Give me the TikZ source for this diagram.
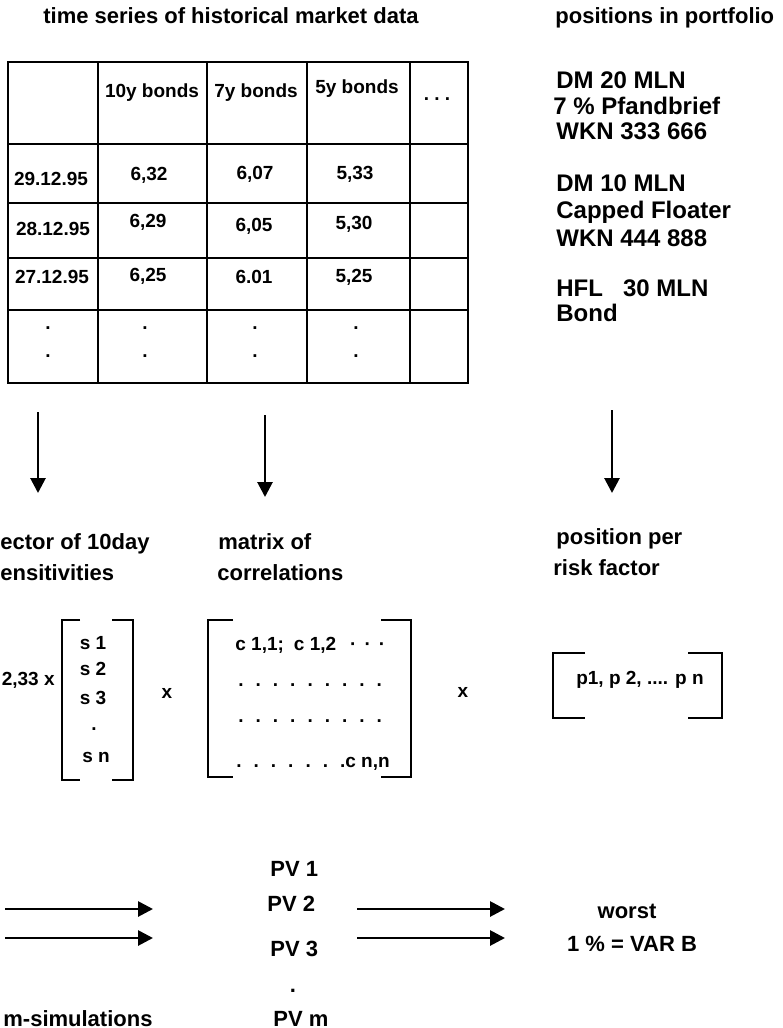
\documentclass[tikz,border=0pt]{standalone}
\usepackage{fontspec}
\setmainfont{Liberation Sans}
\usetikzlibrary{arrows.meta}

\newcommand{\dotgap}{\hspace{6pt}}

\tikzset{
  lbl/.style={font=\bfseries\fontsize{11pt}{13pt}\selectfont, inner sep=0pt, anchor=base west},
  holding/.style={lbl, font=\bfseries\fontsize{12pt}{14pt}\selectfont},
  cell/.style={font=\bfseries\fontsize{9.5pt}{11pt}\selectfont, inner sep=0pt},
  grid/.style={line width=1.3pt},
  brack/.style={line width=1.3pt},
  flow/.style={line width=1.4pt, -{Triangle[length=7.5pt, width=7.5pt]}}
}

\begin{document}
\begin{tikzpicture}[x=0.5pt, y=-0.5pt]
  \useasboundingbox (0,0) rectangle (782,1028);

  % historical market data
  \node[lbl, anchor=base] (histtitle) at (231,24) {time series of historical market data};
  \draw[grid] (8,62) rectangle (468,383);
  \foreach \xx in {98,207,307,410} \draw[grid] (\xx,62) -- (\xx,383);
  \foreach \yy in {144,203,258,310} \draw[grid] (8,\yy) -- (468,\yy);

  \node[cell] (head1) at (152,93) {10y bonds};
  \node[cell] (head2) at (256,93) {7y bonds};
  \node[cell] (head3) at (357,89) {5y bonds};
  \node[cell, anchor=base] (head4) at (437,100) {.\ .\ .};

  \node[cell] (date1) at (51,179) {29.12.95};
  \node[cell] (val11) at (149,175) {6,32};
  \node[cell] (val12) at (255,174) {6,07};
  \node[cell] (val13) at (355,174) {5,33};
  \node[cell] (date2) at (53,229) {28.12.95};
  \node[cell] (val21) at (148,222) {6,29};
  \node[cell] (val22) at (254,226) {6,05};
  \node[cell] (val23) at (354,224) {5,30};
  \node[cell] (date3) at (52,277) {27.12.95};
  \node[cell] (val31) at (148,276) {6,25};
  \node[cell] (val32) at (254,277) {6.01};
  \node[cell] (val33) at (354,277) {5,25};
  \foreach \xx [count=\i] in {48,145,255,356} {
    \node[cell, anchor=base] (dota\i) at (\xx,329) {.};
    \node[cell, anchor=base] (dotb\i) at (\xx,357) {.};
  }

  % portfolio
  \node[lbl] (posttitle) at (555,24) {positions in portfolio};
  \foreach \t/\xx/\yy [count=\i] in {DM 20 MLN/556/88, 7 \% Pfandbrief/553/114,
      WKN 333 666/556/139, DM 10 MLN/556/191, Capped Floater/556/218,
      WKN 444 888/556/246, HFL\ \ \ 30 MLN/556/296, Bond/556/321}
    \node[holding] (hold\i) at (\xx,\yy) {\t};

  % arrows down
  \coordinate (tabA) at (38,412);  \coordinate (sensA) at (38,493);
  \coordinate (tabB) at (265,415); \coordinate (corrA) at (265,497);
  \coordinate (holdA) at (612,410); \coordinate (riskA) at (612,493);
  \draw[flow] (tabA) -- (sensA);
  \draw[flow] (tabB) -- (corrA);
  \draw[flow] (holdA) -- (riskA);

  \node[lbl] (senslbl) at (0,549) {ector of 10day};
  \node[lbl] (senslbl2) at (0,580) {ensitivities};
  \node[lbl] (corrlbl) at (218,549) {matrix of};
  \node[lbl] (corrlbl2) at (217,580) {correlations};
  \node[lbl] (risklbl) at (556,544) {position per};
  \node[lbl] (risklbl2) at (553,575) {risk factor};

  % sensitivities
  \node[cell, anchor=base east] (quant) at (55,685) {2,33 x};
  \draw[brack] (80,620) -| (62,780) -- (80,780);
  \draw[brack] (112,620) -| (133,780) -- (112,780);
  \foreach \t/\xx/\yy [count=\i] in {s 1/93/649, s 2/93/675, s 3/93/704, ./94/730, s n/96/762}
    \node[cell, anchor=base] (sens\i) at (\xx,\yy) {\t};
  \node[cell, anchor=base] (times1) at (167,698) {x};

  % correlations
  \draw[brack] (233,620) -| (208,777) -- (233,777);
  \draw[brack] (381,620) -| (411,777) -- (381,777);
  \node[cell, anchor=base west] (corr1) at (235,650)
    {c 1,1;\hspace{5pt}c 1,2\hspace{7pt}\textperiodcentered\hspace{4pt}\textperiodcentered\hspace{4pt}\textperiodcentered};
  \node[cell, anchor=base west] (corr2) at (238,686)
    {.\dotgap.\dotgap.\dotgap.\dotgap.\dotgap.\dotgap.\dotgap.\dotgap.};
  \node[cell, anchor=base west] (corr3) at (238,722)
    {.\dotgap.\dotgap.\dotgap.\dotgap.\dotgap.\dotgap.\dotgap.\dotgap.};
  \node[cell, anchor=base west] (corr4) at (236,767)
    {.\dotgap.\dotgap.\dotgap.\dotgap.\dotgap.\dotgap.c n,n};
  \node[cell, anchor=base] (times2) at (463,697) {x};

  % positions per risk factor
  \draw[brack] (585,653) -| (553,718) -- (585,718);
  \draw[brack] (688,653) -| (722,718) -- (688,718);
  \node[cell, anchor=base] (pvec) at (640,684) {p1, p 2, .... p n};

  % simulation
  \node[lbl] (pv1) at (270,876) {PV 1};
  \node[lbl] (pv2) at (267,911) {PV 2};
  \node[lbl] (pv3) at (270,956) {PV 3};
  \node[lbl, anchor=base] (pvdot) at (293,992) {.};
  \node[lbl] (pvm) at (273,1026) {PV m};
  \node[lbl] (msim) at (3,1026) {m-simulations};
  \coordinate (simA) at (5,909);   \coordinate (simB) at (153,909);
  \coordinate (simC) at (5,938);   \coordinate (simD) at (153,938);
  \coordinate (worA) at (357,909); \coordinate (worB) at (505,909);
  \coordinate (worC) at (357,938); \coordinate (worD) at (505,938);
  \draw[flow] (simA) -- (simB);
  \draw[flow] (simC) -- (simD);
  \draw[flow] (worA) -- (worB);
  \draw[flow] (worC) -- (worD);
  \node[lbl, anchor=base] (worst) at (627,918) {worst};
  \node[lbl, anchor=base] (var) at (632,951) {1 \% = VAR B};
\end{tikzpicture}
\end{document}
